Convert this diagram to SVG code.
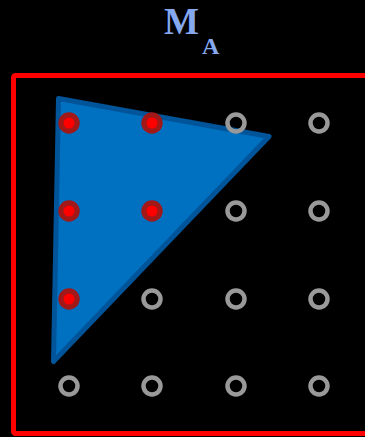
<svg xmlns="http://www.w3.org/2000/svg" width="365" height="437" viewBox="0 0 365 437">
<style>
.ring{fill:none;stroke:#999999;stroke-width:4.5}
.dotO{fill:#A01818}
.dotI{fill:#FF0000}
.title{font-family:"Liberation Serif",serif;font-weight:bold;fill:#86A8EE}
</style>
<rect width="365" height="437" fill="#000"/>
<g id="frame"><rect x="13.5" y="75.5" width="370" height="358" rx="2" fill="none" stroke="#FF0000" stroke-width="5"/></g>
<g id="title"><text class="title" x="164" y="34" font-size="37">M</text><text class="title" x="202" y="53.5" font-size="24">A</text></g>
<g id="triangle"><polygon points="58.5,98.5 269,136.5 53.5,361.5" fill="#0070C0" stroke="#005499" stroke-width="5" stroke-linejoin="round"/></g>
<g id="grid">
<circle class="ring" cx="236" cy="123" r="8.5"/><circle class="ring" cx="319" cy="123" r="8.5"/>
<circle class="ring" cx="236" cy="211" r="8.5"/><circle class="ring" cx="319" cy="211" r="8.5"/>
<circle class="ring" cx="152" cy="299" r="8.5"/><circle class="ring" cx="236" cy="299" r="8.5"/><circle class="ring" cx="319" cy="299" r="8.5"/>
<circle class="ring" cx="69" cy="386" r="8.5"/><circle class="ring" cx="152" cy="386" r="8.5"/><circle class="ring" cx="236" cy="386" r="8.5"/><circle class="ring" cx="319" cy="386" r="8.5"/>
</g>
<g id="samples">
<circle class="dotO" cx="69" cy="123" r="10.7"/><circle class="dotI" cx="69" cy="123" r="5.5"/>
<circle class="dotO" cx="152" cy="123" r="10.7"/><circle class="dotI" cx="152" cy="123" r="5.5"/>
<circle class="dotO" cx="69" cy="211" r="10.7"/><circle class="dotI" cx="69" cy="211" r="5.5"/>
<circle class="dotO" cx="152" cy="211" r="10.7"/><circle class="dotI" cx="152" cy="211" r="5.5"/>
<circle class="dotO" cx="69" cy="299" r="10.7"/><circle class="dotI" cx="69" cy="299" r="5.5"/>
</g>
</svg>
